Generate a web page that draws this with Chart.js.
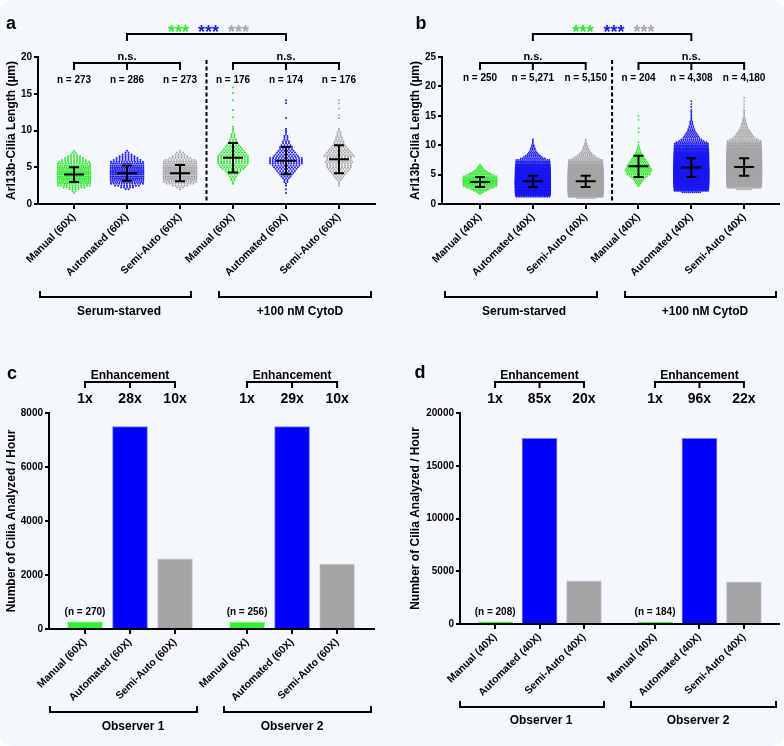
<!DOCTYPE html>
<html><head><meta charset="utf-8">
<script src="https://cdn.jsdelivr.net/npm/chart.js@4.4.1/dist/chart.umd.min.js"></script>
<style>
html,body{margin:0;padding:0;background:#ffffff;}
#card{position:absolute;left:0;top:0;width:784px;height:746px;background:#f4f7fb;border-radius:12px;overflow:hidden;}
canvas{position:absolute;}
</style></head><body><div id="card">
<canvas id="ca" style="left:0px;top:0px;width:392px;height:340px" width="392" height="340"></canvas>
<canvas id="cb" style="left:404px;top:0px;width:380px;height:340px" width="380" height="340"></canvas>
<canvas id="cc" style="left:0px;top:340px;width:392px;height:406px" width="392" height="406"></canvas>
<canvas id="cd" style="left:404px;top:340px;width:380px;height:406px" width="380" height="406"></canvas>
</div>
<script>
// ---------------- DATA ----------------
const labels60 = ['Manual (60X)','Automated (60X)','Semi-Auto (60X)','Manual (60X)','Automated (60X)','Semi-Auto (60X)'];
const labels40 = ['Manual (40X)','Automated (40X)','Semi-Auto (40X)','Manual (40X)','Automated (40X)','Semi-Auto (40X)'];
const groupNames = ['Serum-starved','+100 nM CytoD'];
const observerNames = ['Observer 1','Observer 2'];

// panel a: cilia length distributions (0.25 µm rows: first row value + dot counts per row)
const aStart = [1.5, 2.0, 2.0, 2.75, 1.5, 2.5];
const aCounts = [
  [1,2,4,8,12,15,17,18,19,20,20,20,18,17,16,15,13,11,9,7,5,3,2,1],
  [2,5,9,13,16,18,19,21,22,22,22,20,19,18,16,13,10,8,6,4,2,1],
  [1,3,6,10,14,17,19,20,21,21,21,20,19,18,16,14,11,8,6,4,3,1],
  [1,1,2,2,3,4,5,6,8,9,10,11,11,11,11,11,10,9,8,7,6,5,4,3,3,2,2,2,1,1,1,1],
  [1,0,1,0,1,1,2,2,3,4,5,6,7,8,9,10,13,13,13,12,9,8,7,6,5,5,4,3,3,2,2,2,1,1,1,1],
  [1,1,1,2,3,4,5,6,7,8,9,9,9,10,9,9,11,10,9,8,7,6,5,4,4,3,3,2,2,2,1,1]
];
const aOutliers = [[], [], [], [11.8,12.8,14.1,15.1,15.9], [11.7,13.7,14.1], [11.7,12.1,13.0,13.7,14.1]];
const aMeans = [4.0, 4.2, 4.2, 6.3, 5.9, 6.1];
const aSDs = [1.0, 1.05, 1.1, 2.0, 1.85, 1.9];
const aN = ['n = 273','n = 286','n = 273','n = 176','n = 174','n = 176'];

// panel b
const bStart = [1.75, 1.25, 1.0, 3.0, 2.0, 2.5];
const bCounts = [
  [2,4,7,10,14,17,20,22,23,23,22,20,17,14,11,8,6,4,3,2,1],
  [20,60,110,170,230,290,340,380,392,405,400,390,360,320,280,240,200,160,125,95,72,55,42,32,25,18,13,10,8,6,5,4,3,3,2,2,1,1,1,1],
  [10,35,80,130,185,240,290,330,360,365,372,368,365,340,305,268,230,192,155,122,94,72,55,42,32,25,19,14,11,9,7,6,5,4,3,3,2,2,1,1,1],
  [1,2,3,4,5,6,8,10,12,12,13,14,13,12,12,11,10,9,8,7,6,5,4,3,3,2,2,1,1],
  [10,25,45,70,95,120,145,165,200,225,240,250,255,252,245,232,215,195,175,140,130,116,108,95,83,72,62,53,45,38,32,27,23,19,16,13,11,9,8,7,6,5,4,4,3,3,2,2,2,1,1,1,1,1,1,1],
  [8,22,42,68,95,122,150,175,198,218,221,229,233,231,225,215,201,196,178,160,142,125,108,93,80,68,58,49,41,35,29,25,21,18,15,12,10,9,8,7,6,5,4,4,3,3,2,2,2,1,1,1,1,1,1]
];
const bOutliers = [[], [], [], [10.5,12.2,12.9,14.3,15.0], [16.0,16.5,17.0,17.5], [16.5,17.0,17.5,18.0]];
const bMeans = [3.75, 3.85, 3.85, 6.4, 6.2, 6.3];
const bSDs = [0.85, 0.95, 0.95, 1.8, 1.6, 1.5];
const bN = ['n = 250','n = 5,271','n = 5,150','n = 204','n = 4,308','n = 4,180'];

// panel c / d: cilia analyzed per hour
const cValues = [265, 7500, 2600, 258, 7500, 2400];
const cFold = ['1x','28x','10x','1x','29x','10x'];
const cN = ['(n = 270)','(n = 256)'];
const dValues = [207, 17600, 4100, 183, 17600, 4000];
const dFold = ['1x','85x','20x','1x','96x','22x'];
const dN = ['(n = 208)','(n = 184)'];

const barPos = [0, 1, 2, 3.6, 4.6, 5.6];
const swarmPos = [0, 1, 2, 3, 4, 5];

// ---------------- STYLE ----------------
const FF = "'Liberation Sans', Arial, Helvetica, sans-serif";
Chart.defaults.font.family = FF;
Chart.defaults.color = '#000';
const GREEN = '#2ee82e', BLUE = '#1a1af0', GRAY = '#a6a6a6';
const dotColors = [GREEN, BLUE, GRAY, GREEN, BLUE, GRAY];
const barFill = ['#2ef02e', '#0000ff', '#a4a4a4', '#2ef02e', '#0000ff', '#a4a4a4'];
const barEdge = ['#8cf58c', '#7c7cff', '#cfcfcf', '#8cf58c', '#7c7cff', '#cfcfcf'];

function swarm(center, start, counts, outliers, spacingU, maxWU) {
  const pts = [];
  const row = (v, k) => {
    const w = Math.min(k * spacingU, maxWU);
    for (let i = 0; i < k; i++) pts.push({x: center - w / 2 + (i + 0.5) * w / k, y: v});
  };
  counts.forEach((k, i) => row(start + i * 0.25, k));
  outliers.forEach(v => row(v, 1));
  return pts;
}

function txt(ctx, s, x, y, size, color, align) {
  ctx.font = 'bold ' + size + 'px ' + FF;
  ctx.fillStyle = color || '#000';
  ctx.textAlign = align || 'center';
  ctx.textBaseline = 'alphabetic';
  ctx.fillText(s, x, y);
}
function bracket(ctx, x1, x2, y, y2, mids) {
  ctx.beginPath();
  ctx.moveTo(x1, y2); ctx.lineTo(x1, y); ctx.lineTo(x2, y); ctx.lineTo(x2, y2);
  (mids || []).forEach(m => { ctx.moveTo(m, y); ctx.lineTo(m, y2); });
  ctx.stroke();
}

const errorBars = {
  id: 'errorBars',
  afterDatasetsDraw(chart, args, o) {
    if (!o || !o.means) return;
    const {ctx, scales: {x, y}} = chart;
    ctx.save();
    ctx.strokeStyle = '#000'; ctx.lineWidth = 2;
    o.means.forEach((m, i) => {
      const cx = x.getPixelForValue(swarmPos[i]);
      const yM = y.getPixelForValue(m), yH = y.getPixelForValue(m + o.sds[i]), yL = y.getPixelForValue(m - o.sds[i]);
      ctx.beginPath();
      ctx.moveTo(cx - 10, yM); ctx.lineTo(cx + 10, yM);
      ctx.moveTo(cx, yH); ctx.lineTo(cx, yL);
      ctx.moveTo(cx - 5, yH); ctx.lineTo(cx + 5, yH);
      ctx.moveTo(cx - 5, yL); ctx.lineTo(cx + 5, yL);
      ctx.stroke();
    });
    ctx.restore();
  }
};

function annot(ox, oy, draw) {
  return {
    id: 'annot',
    afterDraw(chart) {
      const ctx = chart.ctx;
      ctx.save();
      ctx.translate(-ox, -oy);
      ctx.strokeStyle = '#000'; ctx.lineWidth = 2; ctx.lineCap = 'butt';
      const X = v => chart.scales.x.getPixelForValue(v) + ox;
      draw(ctx, X, chart.chartArea.bottom + oy);
      ctx.restore();
    }
  };
}

function yAxis(max, step, title, width) {
  return {
    type: 'linear', min: 0, max: max,
    ticks: {stepSize: step, font: {size: 10, weight: 'bold'}, color: '#000', padding: 2, callback: v => String(v)},
    grid: {drawOnChartArea: false, drawTicks: true, tickLength: 4, color: '#000', lineWidth: 2},
    border: {display: true, color: '#000', width: 2},
    title: {display: true, text: title, font: {size: 12, weight: 'bold'}, color: '#000', padding: {top: 4, bottom: 0}},
    afterFit(s) { s.width = width; }
  };
}
function xAxis(min, max, pos, labels, height) {
  return {
    type: 'linear', min: min, max: max, offset: false,
    afterBuildTicks(s) { s.ticks = pos.map(v => ({value: v})); },
    ticks: {autoSkip: false, maxRotation: 45, minRotation: 45, padding: 2, font: {size: 10.5, weight: 'bold'}, color: '#000',
      callback: (v, i) => labels[i]},
    grid: {offset: false, drawOnChartArea: false, drawTicks: true, tickLength: 5, color: '#000', lineWidth: 2},
    border: {display: true, color: '#000', width: 2},
    afterFit(s) { s.height = height; }
  };
}

function swarmChart(id, starts, counts, outliers, means, sds, xmin, xmax, ymax, labels, padRight, xh, spacingU, maxWU, radius, ann) {
  const datasets = counts.map((c, i) => ({
    data: swarm(swarmPos[i], starts[i], c, outliers[i], spacingU, maxWU),
    backgroundColor: dotColors[i], borderWidth: 0, pointRadius: radius, pointHoverRadius: 0
  }));
  return new Chart(document.getElementById(id), {
    type: 'scatter',
    data: {datasets},
    options: {
      responsive: false, animation: false, events: [],
      layout: {padding: {left: 0, right: padRight, top: 57, bottom: 0}},
      plugins: {legend: {display: false}, tooltip: {enabled: false}, errorBars: {means, sds}},
      scales: {x: xAxis(xmin, xmax, swarmPos, labels, xh), y: yAxis(ymax, 5, 'Arl13b-Cilia Length (µm)', 38)}
    },
    plugins: [errorBars, ann]
  });
}

// ---------- Panel a ----------
swarmChart('ca', aStart, aCounts, aOutliers, aMeans, aSDs, -0.68, 5.68, 20, labels60, 17, 136, 0.056, 0.65, 1.0,
  annot(0, 0, (ctx, X, bottom) => {
    txt(ctx, 'a', 11, 29, 18);
    const mid = (X(1) + X(4)) / 2;
    txt(ctx, '***', mid - 28, 38, 18, GREEN);
    txt(ctx, '***', mid + 2, 38, 18, BLUE);
    txt(ctx, '***', mid + 32, 38, 18, GRAY);
    bracket(ctx, X(1), X(4), 34, 41);
    txt(ctx, 'n.s.', X(1), 60, 11); txt(ctx, 'n.s.', X(4), 60, 11);
    bracket(ctx, X(0), X(2), 63, 70, [X(1)]);
    bracket(ctx, X(3), X(5), 63, 70, [X(4)]);
    aN.forEach((s, i) => txt(ctx, s, X(i), 83, 10));
    ctx.save(); ctx.setLineDash([4, 2.5]);
    ctx.beginPath(); ctx.moveTo(X(2.5), 60); ctx.lineTo(X(2.5), bottom); ctx.stroke(); ctx.restore();
    bracket(ctx, 40, 191, 297, 291);
    bracket(ctx, 219, 371, 297, 291);
    txt(ctx, groupNames[0], 119, 315, 12);
    txt(ctx, groupNames[1], 300, 315, 12);
  }));

// ---------- Panel b ----------
swarmChart('cb', bStart, bCounts, bOutliers, bMeans, bSDs, -0.72, 5.66, 25, labels40, 5, 136, 0.038, 0.66, 0.9,
  annot(404, 0, (ctx, X, bottom) => {
    txt(ctx, 'b', 421, 29, 18);
    const mid = (X(1) + X(4)) / 2;
    txt(ctx, '***', mid - 29, 38, 18, GREEN);
    txt(ctx, '***', mid + 2, 38, 18, BLUE);
    txt(ctx, '***', mid + 32, 38, 18, GRAY);
    bracket(ctx, X(1), X(4), 34, 41);
    txt(ctx, 'n.s.', X(1), 60, 11); txt(ctx, 'n.s.', X(4), 60, 11);
    bracket(ctx, X(0), X(2), 63, 70, [X(1)]);
    bracket(ctx, X(3), X(5), 63, 70, [X(4)]);
    bN.forEach((s, i) => txt(ctx, s, X(i), 81, 10));
    ctx.save(); ctx.setLineDash([4, 2.5]);
    ctx.beginPath(); ctx.moveTo(X(2.5), 60); ctx.lineTo(X(2.5), bottom); ctx.stroke(); ctx.restore();
    bracket(ctx, 445, 597, 297, 291);
    bracket(ctx, 625, 776, 297, 291);
    txt(ctx, groupNames[0], 524, 315, 12);
    txt(ctx, groupNames[1], 705, 315, 12);
  }));

// ---------- Panels c, d ----------
function barChart(id, values, ymax, step, ywidth, xmin, xmax, labels, padRight, xh, ann) {
  return new Chart(document.getElementById(id), {
    type: 'bar',
    data: {datasets: [{
      data: barPos.map((x, i) => ({x: x, y: values[i]})),
      backgroundColor: barFill, borderColor: barEdge, borderWidth: 1, barThickness: 35, borderSkipped: 'bottom'
    }]},
    options: {
      responsive: false, animation: false, events: [],
      layout: {padding: {left: 0, right: padRight, top: 73, bottom: 0}},
      plugins: {legend: {display: false}, tooltip: {enabled: false}},
      scales: {x: xAxis(xmin, xmax, barPos, labels, xh), y: yAxis(ymax, step, 'Number of Cilia Analyzed / Hour', ywidth)}
    },
    plugins: [ann]
  });
}

barChart('cc', cValues, 8000, 2000, 49, -0.8, 6.42, labels60, 18, 117,
  annot(0, 340, (ctx, X) => {
    txt(ctx, 'c', 12, 379, 18);
    [0, 3.6].forEach((o, g) => {
      txt(ctx, 'Enhancement', X(o + 1), 379, 12);
      bracket(ctx, X(o), X(o + 2), 382, 388, [X(o + 1)]);
      for (let k = 0; k < 3; k++) txt(ctx, cFold[g * 3 + k], X(o + k), 403, 14);
      txt(ctx, cN[g], X(o), 615, 10);
    });
    bracket(ctx, 50, 197, 712, 706);
    bracket(ctx, 224, 371, 712, 706);
    txt(ctx, observerNames[0], 133, 730, 12);
    txt(ctx, observerNames[1], 292, 730, 12);
  }));

barChart('cd', dValues, 20000, 5000, 56, -0.79, 6.39, labels40, 5, 122,
  annot(404, 340, (ctx, X) => {
    txt(ctx, 'd', 420, 378, 18);
    [0, 3.6].forEach((o, g) => {
      txt(ctx, 'Enhancement', X(o + 1), 379, 12);
      bracket(ctx, X(o), X(o + 2), 382, 388, [X(o + 1)]);
      for (let k = 0; k < 3; k++) txt(ctx, dFold[g * 3 + k], X(o + k), 403, 14);
      txt(ctx, dN[g], X(o), 615, 10);
    });
    bracket(ctx, 460, 604, 707, 701);
    bracket(ctx, 631, 776, 707, 701);
    txt(ctx, observerNames[0], 541, 724, 12);
    txt(ctx, observerNames[1], 698, 724, 12);
  }));
</script>
</body></html>
